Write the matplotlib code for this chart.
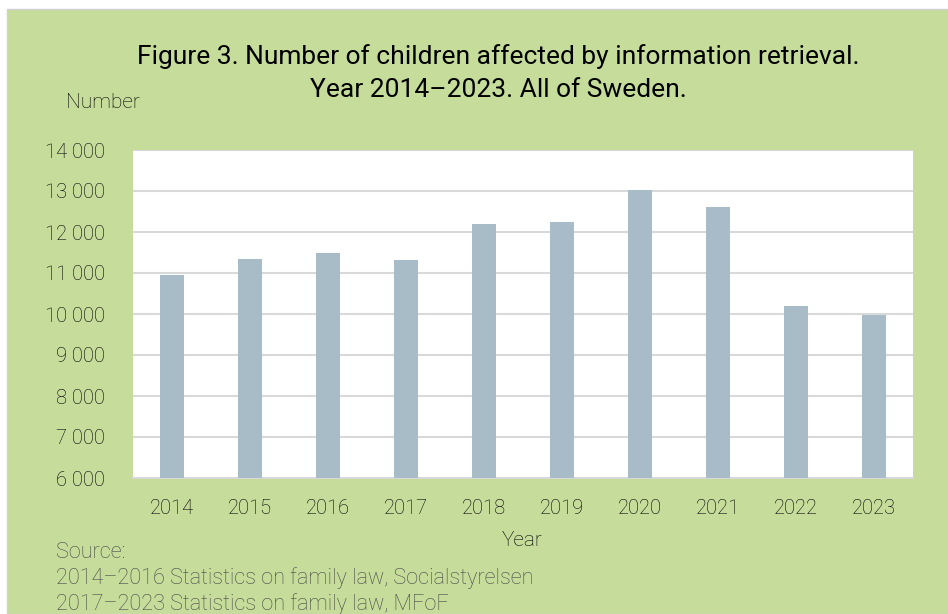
import matplotlib.pyplot as plt
from matplotlib.patches import Rectangle
from matplotlib.ticker import FuncFormatter
import numpy as np

years = ["2014", "2015", "2016", "2017", "2018", "2019", "2020", "2021", "2022", "2023"]
children = [10950, 11330, 11490, 11320, 12190, 12250, 13020, 12620, 10200, 9970]
yticks = [6000, 7000, 8000, 9000, 10000, 11000, 12000, 13000, 14000]

plt.rcParams['font.family'] = ['Roboto', 'DejaVu Sans']

W, H = 948, 614
fig = plt.figure(figsize=(W / 100, H / 100), dpi=100)
fig.patch.set_facecolor("white")
# green panel behind everything
fig.patches.append(Rectangle((7 / W, 0), 1 - 7 / W, 1 - 9 / H, transform=fig.transFigure,
                             facecolor="#c5dc9a", edgecolor="#d0d0d0", lw=1, zorder=-1))

ax = fig.add_axes([133 / W, 1 - 478 / H, 780 / W, 328 / H])
ax.set_zorder(2)
ax.set_facecolor("white")
x = np.arange(len(years))
ax.bar(x, children, width=0.31, color="#a7bcc6", zorder=3)
ax.set_xlim(-0.5, len(years) - 0.5)
ax.set_ylim(6000, 14000)
ax.set_yticks(yticks)
ax.yaxis.set_major_formatter(FuncFormatter(lambda v, p: f"{int(v):,}".replace(",", " ")))
ax.set_xticks(x)
ax.set_xticklabels(years)
ax.grid(axis="y", color="#d9d9d9", lw=1.5, zorder=0)
for s in ["top", "right", "left"]:
    ax.spines[s].set_visible(False)
ax.spines["bottom"].set_color("#d9d9d9")
ax.spines["bottom"].set_linewidth(1.5)
ax.tick_params(length=0, labelsize=14.5, colors="#000000")
ax.tick_params(axis="y", pad=20)
ax.tick_params(axis="x", pad=15)
for lab in ax.get_xticklabels() + ax.get_yticklabels():
    lab.set_fontweight("light")

fig.text(498 / W, 1 - 57 / H, "Figure 3. Number of children affected by information retrieval.",
         ha="center", va="center", fontsize=19, color="black")
fig.text(498 / W, 1 - 90 / H, "Year 2014\u20132023. All of Sweden.",
         ha="center", va="center", fontsize=19, color="black")
fig.text(66 / W, 1 - 102 / H, "Number", ha="left", va="center", fontsize=15,
         fontweight="light", color="#000000")
fig.text(522 / W, 1 - 540 / H, "Year", ha="center", va="center", fontsize=15,
         fontweight="light", color="#000000")

src = ["Source:", "2014\u20132016 Statistics on family law, Socialstyrelsen",
       "2017\u20132023 Statistics on family law, MFoF"]
for i, line in enumerate(src):
    fig.text(56 / W, 1 - (552 + 26 * i) / H, line, ha="left", va="center", fontsize=15.6,
             fontweight="light", color="#4a4a4a")

fig.savefig("out.png", dpi=100, facecolor=fig.get_facecolor())
